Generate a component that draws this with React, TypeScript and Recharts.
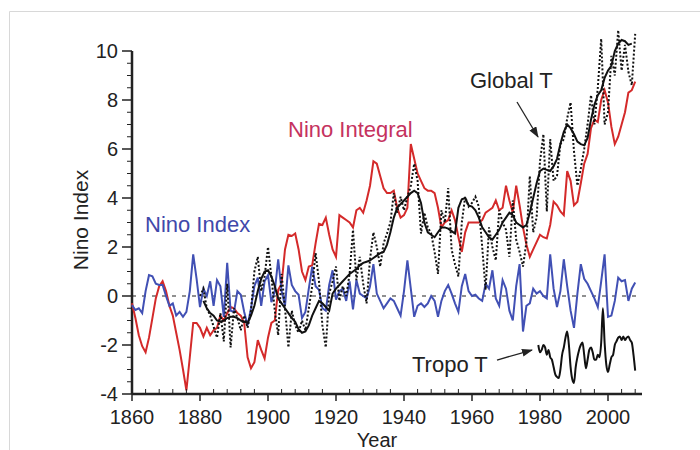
import { LineChart, Line, XAxis, YAxis, ReferenceLine } from 'recharts'

// Nino Index (blue), annual from 1860
const NINO_START = 1860
const ninoIndex = [
  -0.37, -0.57, -0.5, -0.7, 0.2, 0.85, 0.8, 0.5, 0.45, 0.45,
  0.0, -0.4, -0.3, -0.8, -0.65, -0.85, -0.65, 0.2, 1.7, 0.7,
  -0.45, 0.3, 0.0, 0.6, -0.4, 0.65, 0.4, -0.85, 1.35, -0.6,
  -0.65, 0.2, 0.05, -0.65, -1.2, -0.5, 0.4, 0.75, -0.4, 0.6,
  0.85, -0.25, 0.2, 1.5, 0.2, -0.4, 1.25, 0.45, 0.2, 0.05,
  -0.9, -0.65, 0.3, 1.2, 0.4, 0.25, -0.5, -0.6, 0.45, 1.05,
  -0.15, 0.2, 0.3, -0.2, 0.6, -0.55, 0.65, 0.1, 0.0, -0.1,
  0.4, 1.3, 0.1, -0.2, -0.5, -0.3, -0.1, -0.2, -0.5, -0.8,
  0.2, 1.45, 0.3, -0.85, -0.4, -0.3, -0.45, -0.3, 0.0, -0.2,
  -0.85, -0.2, 0.2, 0.45, 0.1, -0.3, -0.65, 0.4, 0.9, 0.2,
  0.0, 0.05, -0.1, -0.2, 0.5, 0.3, 1.05, -0.1, -0.4, 0.65,
  0.3, -0.6, -1.0, 0.4, 1.3, -1.45, -0.4, -0.3, 0.3, 0.1,
  0.2, 0.0, -0.1, 1.7, 0.3, -0.45, 0.2, 1.5, 0.4, -0.6,
  -1.3, 0.1, 1.3, 0.7, 0.5, 0.2, -0.1, -0.45, 0.6, 1.7,
  -0.85, -0.8, -0.2, 0.75, 0.6, 0.65, -0.2, 0.3, 0.55,
]

// Nino Integral (red), annual from 1860
const ninoIntegral = [
  -0.3, -0.9, -1.6, -2.05, -2.3, -1.7, -0.9, -0.1, 0.4, 0.6,
  0.2, -0.4, -0.8, -1.5, -2.2, -3.0, -3.85, -2.5, -1.1, -1.1,
  -1.3, -1.65, -1.3, -1.6, -1.4, -1.3, -0.8, -1.0, -0.7, -0.45,
  -0.5, -0.7, -0.8, -1.1, -2.5, -2.95, -2.7, -1.8, -2.2, -2.55,
  -1.7, -1.1, -1.0, 0.25, 0.5, 1.9, 2.5, 2.45, 2.55, 1.9,
  1.0, 0.65, 1.2, 1.25, 2.15, 2.95, 2.9, 3.2, 2.5, 1.9,
  1.6, 3.3, 3.2, 3.1, 3.0, 2.8, 3.5, 3.6, 3.4, 3.9,
  4.5, 5.5, 5.4, 4.9, 4.4, 4.2, 4.2, 4.3, 3.6, 3.2,
  3.3, 3.6, 6.2, 5.6, 5.0, 4.7, 4.4, 4.3, 4.3, 4.2,
  3.6, 2.8, 3.0, 3.1, 3.5, 3.1, 2.4, 1.8, 2.6, 3.0,
  3.0, 3.0, 3.0, 3.1, 3.4, 3.5, 3.6, 3.9, 3.5, 3.6,
  4.5, 3.9, 3.4, 4.5, 3.7, 2.8, 2.1, 1.6, 1.9, 2.2,
  2.5, 2.4, 2.35, 2.9, 3.85, 3.7, 3.45, 3.3, 5.1, 4.7,
  3.7, 3.85, 4.6, 5.4, 5.8, 6.85, 7.2, 7.1, 8.0, 8.4,
  7.9, 6.9, 6.2, 6.5, 7.0, 7.5, 8.3, 8.4, 8.75,
]

// Global T, annual values (dotted), from 1880
const GLOBAL_START = 1880
const globalT = [
  0.0, 0.3, -0.5, -0.8, -1.25, -1.7, -0.7, -1.85, 0.5, -2.1,
  -0.5, -0.9, -1.4, -0.8, -1.3, -0.6, 1.0, 1.6, 0.2, 0.8,
  2.0, 0.8, -0.6, -1.6, 0.9, -0.5, -2.1, -0.6, -1.2, -1.5,
  -1.0, -1.4, -0.5, 0.4, 1.75, 0.6, -1.2, -2.1, 0.1, 0.6,
  1.2, -0.2, 0.4, 0.0, 0.9, 2.7, 0.65, 1.6, 0.5, -0.3,
  1.5, 2.6, 2.0, 1.2, 2.15, 2.55, 3.0, 4.2, 3.4, 4.05,
  3.5, 4.05, 4.5, 5.4, 4.7, 2.55, 3.4, 2.8, 2.55, 1.8,
  0.9, 3.5, 3.0, 4.4, 1.9, 1.3, 0.8, 3.0, 4.05, 3.65,
  3.8, 4.05, 3.65, 2.0, 0.25, 2.8, 2.0, 1.45, 3.5, 3.0,
  2.7, 1.6, 3.9, 2.3, 1.8, 1.2, 2.2, 4.9, 2.6, 3.2,
  5.5, 6.6, 3.45, 6.4, 4.7, 4.9, 6.2, 6.4, 7.25, 7.9,
  5.9, 4.5, 5.2, 6.0, 7.0, 8.2, 7.0, 8.5, 10.5, 7.0,
  7.5, 9.8, 9.0, 10.85, 9.2, 10.25, 9.15, 8.6, 10.7,
]

// Global T, smoothed (solid), from 1881
const SMOOTH_START = 1881
const globalSmooth = [
  -0.2, -0.5, -0.7, -0.8, -1.0, -1.05, -1.0, -0.9, -0.85,
  -0.85, -0.9, -1.0, -1.05, -1.1, -0.8, -0.4, 0.2, 0.7, 1.0,
  1.05, 0.8, 0.4, -0.1, -0.3, -0.5, -0.7, -0.9, -1.05, -1.35,
  -1.5, -1.45, -1.2, -0.8, -0.5, -0.2, -0.3, -0.45, -0.6, 0.1,
  0.3, 0.45, 0.6, 0.75, 0.9, 1.0, 1.1, 1.25, 1.35, 1.4,
  1.45, 1.55, 1.65, 1.75, 1.8, 2.1, 2.6, 3.2, 3.6, 3.75,
  3.9, 4.05, 4.2, 4.3, 4.2, 3.8, 3.0, 2.6, 2.5, 2.4,
  2.6, 2.8, 2.8, 2.75, 2.65, 2.55, 3.6, 3.95, 4.0, 3.7,
  3.65, 3.5, 3.2, 2.8, 2.6, 2.4, 2.3, 2.5, 2.7, 3.0,
  3.2, 3.4, 3.3, 3.0, 2.9, 2.8, 2.9, 3.4, 4.0, 4.6,
  5.1, 5.2, 5.15, 5.1, 5.3, 5.6, 6.2, 6.7, 7.0, 6.85,
  6.6, 6.3, 6.2, 6.15, 6.45, 7.2, 7.8, 8.2, 8.4, 8.9,
  9.2, 9.4, 10.0, 10.3, 10.45, 10.4, 10.25, 10.3,
]

// Tropo T, half-year steps from 1979.5
const TROPO_START = 1979.5
const tropoT = [
  -2.0, -2.3, -2.2, -2.0, -2.1, -2.4, -2.2, -2.5, -2.6, -2.9,
  -3.2, -3.3, -3.35, -3.0, -2.4, -2.1, -1.7, -1.45, -2.0, -2.9,
  -3.4, -3.55, -2.9, -2.5, -2.2, -2.0, -1.9, -2.4, -2.95, -2.6,
  -2.2, -2.1, -2.3, -2.6, -2.6, -2.4, -2.5, -1.9, -0.5, -1.9,
  -2.8, -3.1, -2.8, -2.5, -2.4, -2.0, -1.85, -1.7, -1.65, -1.8,
  -1.65, -1.8, -1.7, -1.65, -1.8, -1.9, -2.4, -3.05,
]

const X_LABELS = [1860, 1880, 1900, 1920, 1940, 1960, 1980, 2000]
const X_TICKS = Array.from({ length: 38 }, (_, i) => 1860 + i * 4)
const Y_LABELS = [-4, -2, 0, 2, 4, 6, 8, 10]
const Y_TICKS = Array.from({ length: 29 }, (_, i) => -4 + i * 0.5)

const series = (start: number, step: number, values: number[]) =>
  values.map((v, i) => ({ year: start + i * step, v }))

const FONT = '"Liberation Sans", Arial, Helvetica, sans-serif'
const INK = '#222'

const XTick = (props: any) => {
  const { x, y, payload } = props
  const v = payload.value
  if (X_LABELS.includes(v)) {
    return (
      <g>
        <line x1={x} y1={y} x2={x} y2={y + 7} stroke={INK} strokeWidth={1.5} />
        <text x={x} y={y + 30} textAnchor="middle" fontSize={20} fontFamily={FONT} fill={INK}>
          {v}
        </text>
      </g>
    )
  }
  return <line x1={x} y1={y} x2={x} y2={y - 5} stroke={INK} strokeWidth={1} />
}

const YTick = (props: any) => {
  const { x, y, payload } = props
  const v = payload.value
  if (Y_LABELS.includes(v)) {
    return (
      <g>
        <line x1={x - 10} y1={y} x2={x} y2={y} stroke={INK} strokeWidth={1.5} />
        <text x={x - 14} y={y + 7} textAnchor="end" fontSize={20} fontFamily={FONT} fill={INK}>
          {v}
        </text>
      </g>
    )
  }
  return <line x1={x - 5} y1={y} x2={x} y2={y} stroke={INK} strokeWidth={1} />
}

export default function App() {
  return (
    <div style={{ position: 'absolute', left: 0, top: 0, width: 700, height: 450, background: '#fff' }}>
      <LineChart
        width={700}
        height={450}
        margin={{ top: 26.5, right: 58, bottom: 16, left: 72 }}
      >
        <XAxis
          dataKey="year"
          type="number"
          domain={[1860, 2010]}
          ticks={X_TICKS}
          interval={0}
          tick={<XTick />}
          tickLine={false}
          tickSize={0}
          tickMargin={0}
          height={40}
          axisLine={{ stroke: INK, strokeWidth: 2.5 }}
        />
        <YAxis
          type="number"
          domain={[-4, 11]}
          ticks={Y_TICKS}
          interval={0}
          tick={<YTick />}
          tickLine={false}
          tickSize={0}
          tickMargin={0}
          width={60}
          axisLine={false}
        />
        <ReferenceLine
          segment={[{ x: 1860, y: -4 }, { x: 1860, y: 10 }]}
          stroke={INK}
          strokeWidth={2.5}
        />
        <ReferenceLine y={0} stroke={INK} strokeWidth={1.2} strokeDasharray="4 6" />
        <Line
          data={series(NINO_START, 1, ninoIntegral)}
          dataKey="v"
          stroke="#d42a2a"
          strokeWidth={2}
          dot={false}
          isAnimationActive={false}
        />
        <Line
          data={series(NINO_START, 1, ninoIndex)}
          dataKey="v"
          stroke="#4150b4"
          strokeWidth={2}
          dot={false}
          isAnimationActive={false}
        />
        <Line
          data={series(GLOBAL_START, 1, globalT)}
          dataKey="v"
          stroke="#111"
          strokeWidth={2}
          strokeDasharray="2 2"
          dot={false}
          isAnimationActive={false}
        />
        <Line
          data={series(SMOOTH_START, 1, globalSmooth)}
          dataKey="v"
          stroke="#111"
          strokeWidth={2}
          dot={false}
          isAnimationActive={false}
        />
        <Line
          data={series(TROPO_START, 0.5, tropoT)}
          dataKey="v"
          type="monotone"
          stroke="#111"
          strokeWidth={2}
          dot={false}
          isAnimationActive={false}
        />
      </LineChart>
      <svg
        width={700}
        height={450}
        style={{ position: 'absolute', left: 0, top: 0, pointerEvents: 'none' }}
        fontFamily={FONT}
      >
        <defs>
          <marker id="head" markerWidth="11" markerHeight="8" refX="10" refY="4" orient="auto" markerUnits="userSpaceOnUse">
            <path d="M0,0 L11,4 L0,8 z" fill={INK} />
          </marker>
        </defs>
        <path d="M9.5,450 L9.5,11.5 L700,11.5" fill="none" stroke="#d8d8d8" strokeWidth={1} />
        <text x={88} y={220} transform="rotate(-90 88 220)" textAnchor="middle" fontSize={21} fill={INK}>
          Nino Index
        </text>
        <text x={377} y={447} textAnchor="middle" fontSize={20} fill={INK}>Year</text>
        <text x={145} y={232} fontSize={22} fill="#4048aa">Nino Index</text>
        <text x={288} y={137} fontSize={22} fill="#c5325e">Nino Integral</text>
        <text x={470} y={88} fontSize={22} fill={INK}>Global T</text>
        <text x={412} y={372} fontSize={22} fill={INK}>Tropo T</text>
        <line x1={517} y1={102} x2={538} y2={137} stroke={INK} strokeWidth={1.3} markerEnd="url(#head)" />
        <line x1={497} y1={360} x2={532} y2={350} stroke={INK} strokeWidth={1.3} markerEnd="url(#head)" />
      </svg>
    </div>
  )
}
